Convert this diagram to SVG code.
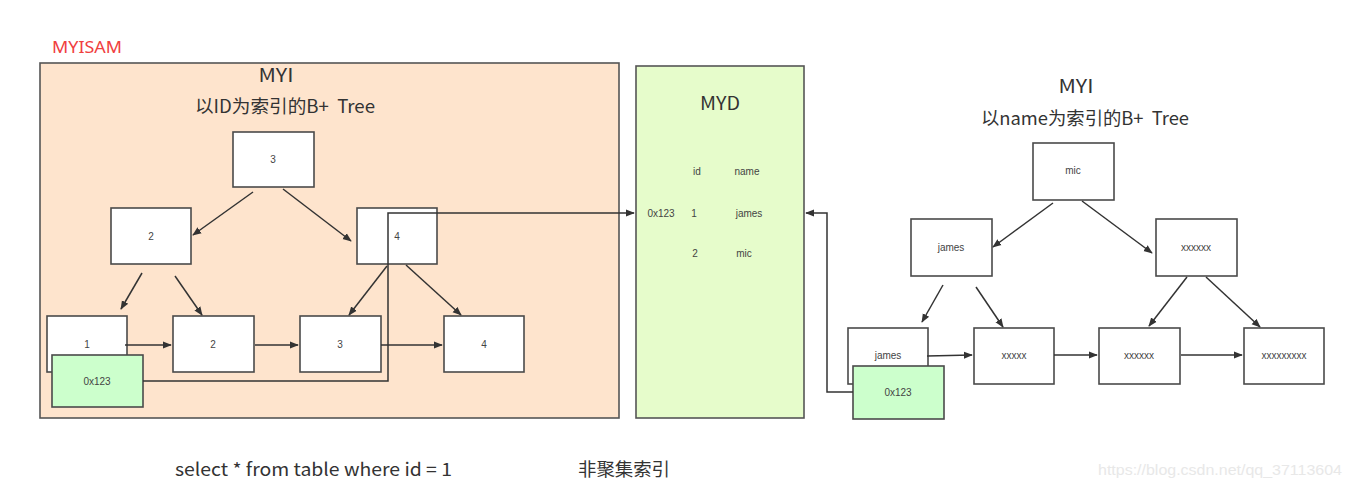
<svg xmlns="http://www.w3.org/2000/svg" width="1352" height="487" viewBox="0 0 1352 487">
<defs>
<style>
.box{fill:#fff;stroke:#4a4a4a;stroke-width:1.6}
.green{fill:#ccffcc;stroke:#4a4a4a;stroke-width:1.6}
.t{font-family:"Liberation Sans","Noto Sans",sans-serif;font-size:10px;fill:#444;text-anchor:middle}
.title{font-family:"Noto Sans CJK SC","Noto Sans",sans-serif;font-size:18px;fill:#333;text-anchor:middle;white-space:pre}
.cn{font-family:"Noto Sans CJK SC","Noto Sans",sans-serif;font-size:18px;fill:#333}
.e{fill:none;stroke:#333;stroke-width:1.5;marker-end:url(#ah)}
</style>
<marker id="ah" viewBox="0 0 10 10" refX="9" refY="5" markerWidth="9" markerHeight="9" markerUnits="userSpaceOnUse" orient="auto">
<path d="M0,1 L10,5 L0,9 z" fill="#333"/>
</marker>
</defs>
<rect width="1352" height="487" fill="#fff"/>
<text x="52" y="53" textLength="70" lengthAdjust="spacingAndGlyphs" style="font-family:'Noto Sans','Liberation Sans',sans-serif;font-size:16px;fill:#f04040">MYISAM</text>
<g id="myi-left">
<rect x="40" y="63" width="579" height="355" fill="#fee4cd" stroke="#555" stroke-width="1.6"/>
<text class="title" x="276" y="82" textLength="35" lengthAdjust="spacingAndGlyphs">MYI</text>
<text class="title" x="285" y="113" textLength="180" lengthAdjust="spacingAndGlyphs" xml:space="preserve">以ID为索引的B+  Tree</text>
</g>
<g id="myd">
<rect x="636" y="66" width="168" height="352" fill="#e6fccb" stroke="#555" stroke-width="1.6"/>
<text class="title" x="720" y="110" textLength="40" lengthAdjust="spacingAndGlyphs">MYD</text>
<text class="t" x="697" y="175">id</text>
<text class="t" x="747" y="175">name</text>
<text class="t" x="661" y="217">0x123</text>
<text class="t" x="694" y="217">1</text>
<text class="t" x="749" y="217">james</text>
<text class="t" x="695" y="257">2</text>
<text class="t" x="744" y="257">mic</text>
</g>
<g id="l-root"><rect class="box" x="233" y="132" width="81" height="55"/><text class="t" x="273" y="163">3</text></g>
<g id="l-n2"><rect class="box" x="111" y="208" width="80" height="56"/><text class="t" x="151" y="240">2</text></g>
<g id="l-n4"><rect class="box" x="357" y="208" width="80" height="56"/><text class="t" x="397" y="240">4</text></g>
<g id="l-leaf1"><rect class="box" x="47" y="316" width="80" height="56"/><text class="t" x="87" y="348">1</text></g>
<g id="l-leaf2"><rect class="box" x="173" y="316" width="81" height="56"/><text class="t" x="213" y="348">2</text></g>
<g id="l-leaf3"><rect class="box" x="300" y="316" width="81" height="56"/><text class="t" x="340" y="348">3</text></g>
<g id="l-leaf4"><rect class="box" x="444" y="316" width="80" height="56"/><text class="t" x="484" y="348">4</text></g>
<g id="l-ptr"><rect class="green" x="52" y="355" width="91" height="52"/><text class="t" x="97" y="385">0x123</text></g>
<g id="myi-right">
<text class="title" x="1076" y="93" textLength="35" lengthAdjust="spacingAndGlyphs">MYI</text>
<text class="title" x="1085" y="125" textLength="208" lengthAdjust="spacingAndGlyphs" xml:space="preserve">以name为索引的B+  Tree</text>
</g>
<g id="r-root"><rect class="box" x="1033" y="143" width="81" height="57"/><text class="t" x="1073" y="174">mic</text></g>
<g id="r-james"><rect class="box" x="911" y="219" width="81" height="57"/><text class="t" x="951" y="251">james</text></g>
<g id="r-x6"><rect class="box" x="1156" y="219" width="81" height="57"/><text class="t" x="1196" y="251">xxxxxx</text></g>
<g id="r-leaf1"><rect class="box" x="848" y="328" width="80" height="56"/><text class="t" x="888" y="359">james</text></g>
<g id="r-leaf2"><rect class="box" x="974" y="328" width="80" height="56"/><text class="t" x="1014" y="359">xxxxx</text></g>
<g id="r-leaf3"><rect class="box" x="1099" y="328" width="81" height="56"/><text class="t" x="1139" y="359">xxxxxx</text></g>
<g id="r-leaf4"><rect class="box" x="1244" y="328" width="80" height="56"/><text class="t" x="1284" y="359">xxxxxxxxx</text></g>
<g id="r-ptr"><rect class="green" x="853" y="366" width="91" height="53"/><text class="t" x="898" y="396">0x123</text></g>
<g id="connectors">
<path class="e" d="M253,192 L193,235"/>
<path class="e" d="M283,189 L351,241"/>
<path class="e" d="M142,273 L121,309"/>
<path class="e" d="M175,276 L202,315"/>
<path class="e" d="M387,266 L349,315"/>
<path class="e" d="M406,265 L461,315"/>
<path class="e" d="M125,345 L171,345"/>
<path class="e" d="M255,345 L298,345"/>
<path class="e" d="M381,345 L442,345"/>
<path class="e" d="M143,381 H388 V213 H634"/>
<path class="e" d="M1053,203 L993,247"/>
<path class="e" d="M1082,201 L1152,253"/>
<path class="e" d="M943,285 L922,322"/>
<path class="e" d="M976,287 L1003,327"/>
<path class="e" d="M1187,277 L1149,326"/>
<path class="e" d="M1206,277 L1260,327"/>
<path class="e" d="M927,356 L972,355"/>
<path class="e" d="M1054,355 L1097,355"/>
<path class="e" d="M1181,355 L1242,355"/>
<path class="e" d="M853,392 H827 V213 H806"/>
</g>
<text class="cn" x="175" y="476" textLength="277" lengthAdjust="spacingAndGlyphs">select * from table where id = 1</text>
<text class="cn" x="578" y="476" textLength="92" lengthAdjust="spacingAndGlyphs">非聚集索引</text>
<text x="1098" y="475" textLength="244" lengthAdjust="spacingAndGlyphs" style="font-family:'Liberation Sans',sans-serif;font-size:15px;fill:#e8e8e8">https://blog.csdn.net/qq_37113604</text>
</svg>
